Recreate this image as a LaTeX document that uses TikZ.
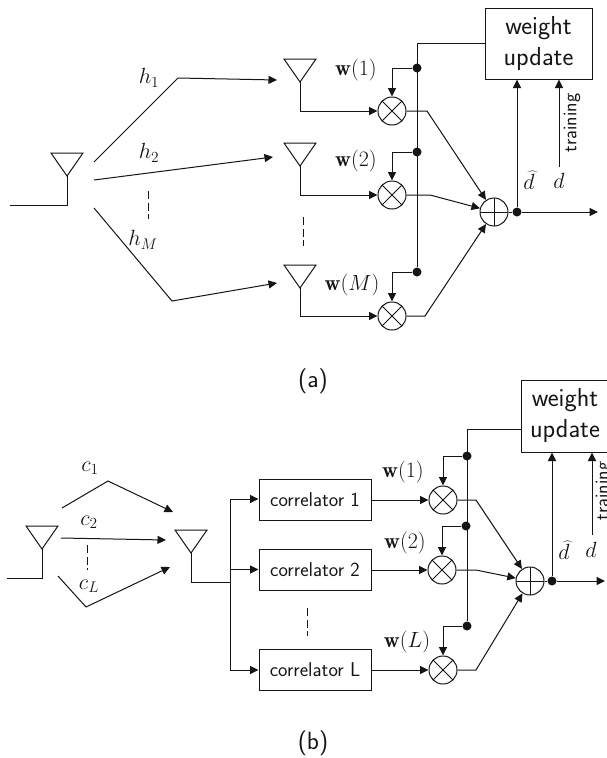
\RequirePackage{fix-cm}
\documentclass[tikz,border=0pt]{standalone}
\usepackage{fontspec}
\usetikzlibrary{arrows.meta}
\newfontfamily\labfont{Latin Modern Sans}
\newcommand{\antenna}[3]{% name, x, apex y
  \coordinate (#1) at (#2,#3);
  \draw[wire] (#1) -- ++(-16,-23) -- ++(32,0) -- cycle;}
\tikzset{
  x=1pt,y=-1pt,
  wire/.style={draw=ink,line width=1pt,line join=miter},
  arr/.style={wire,-{Triangle[length=8.5pt,width=8pt]}},
  mult/.style={circle,draw=ink,line width=1pt,fill=white,inner sep=0pt,minimum size=28pt,
    path picture={\draw[draw=ink,line width=1pt,shift={(path picture bounding box.center)}] (-10,-10)--(10,10) (-10,10)--(10,-10);}},
  summer/.style={circle,draw=ink,line width=1pt,fill=white,inner sep=0pt,minimum size=28pt,
    path picture={\draw[draw=ink,line width=1pt,shift={(path picture bounding box.center)}] (-14,0)--(14,0) (0,-14)--(0,14);}},
  dotn/.style={circle,fill=ink,inner sep=0pt,minimum size=9pt},
  bigbox/.style={draw=ink,line width=1pt,fill=white,align=center,inner sep=0pt,text=ink,
    font=\labfont\fontsize{26}{31}\selectfont},
  corr/.style={draw=ink,line width=1pt,fill=white,inner sep=0pt,minimum width=112pt,minimum height=41pt,text=ink,
    font=\labfont\fontsize{20}{22}\selectfont},
  smalltext/.style={text=ink,inner sep=0pt,font=\labfont\fontsize{19.5}{22}\selectfont},
  capt/.style={text=ink,inner sep=0pt,font=\labfont\fontsize{25}{28}\selectfont},
  mathl/.style={text=ink,inner sep=0pt,font=\fontsize{22}{25}\selectfont},
  dashl/.style={draw=ink,line width=1pt,dash pattern=on 8pt off 3.5pt},
}
\definecolor{ink}{HTML}{151515}
\begin{document}
\begin{tikzpicture}
\clip (0,0) rectangle (607,758);
\fill[white] (0,0) rectangle (607,758);

% ---------- (a) ----------
\antenna{txa}{67}{176}
\coordinate (txaL) at (10,205);
\coordinate (txaK) at (67,205);
\draw[wire] (txa) -- (txaK) -- (txaL);

\antenna{ra1}{300}{82}
\antenna{ra2}{300}{166}
\antenna{ra3}{300}{288}
\coordinate (ch1s) at (94,162); \coordinate (ch1k) at (178,78); \coordinate (ch1e) at (277,80);
\coordinate (ch2s) at (94,180); \coordinate (ch2e) at (273,157);
\coordinate (ch3s) at (94,208); \coordinate (ch3k) at (172,301); \coordinate (ch3e) at (277,283);
\draw[arr] (ch1s) -- (ch1k) -- (ch1e);
\draw[arr] (ch2s) -- (ch2e);
\draw[arr] (ch3s) -- (ch3k) -- (ch3e);
\coordinate (da1) at (148,191); \coordinate (da2) at (148,219);
\draw[dashl] (da1) -- (da2);
\coordinate (da3) at (303,217); \coordinate (da4) at (303,246);
\draw[dashl] (da3) -- (da4);
\node[mathl] (h1) at (149,78) {$h_1$};
\node[mathl] (h2) at (149,153) {$h_2$};
\node[mathl] (hM) at (143,240) {$h_M$};

\node[bigbox,minimum width=107pt,minimum height=71pt] (wa) at (538.5,43.5) {weight\\update};
\node[mult] (ma1) at (392,111) {};
\node[mult] (ma2) at (392,195) {};
\node[mult] (ma3) at (392,316) {};
\node[summer] (sa) at (494,212) {};
\node[dotn] (da) at (517,212) {};
\node[dotn] (ba1) at (417,68) {};
\node[dotn] (ba2) at (417,152) {};
\node[dotn] (ba3) at (417,272) {};
\coordinate (bat) at (417,43);
\draw[wire] (wa.west |- bat) -- (bat) -- (ba3);
\coordinate (ra1k) at (300,111); \coordinate (ra2k) at (300,195); \coordinate (ra3k) at (300,316);
\draw[arr] (ra1) -- (ra1k) -- (ma1);
\draw[arr] (ra2) -- (ra2k) -- (ma2);
\draw[arr] (ra3) -- (ra3k) -- (ma3);
\draw[arr] (ba1) -| (ma1);
\draw[arr] (ba2) -| (ma2);
\draw[arr] (ba3) -| (ma3);
\coordinate (oa1) at (427,111); \coordinate (oa2) at (430,195); \coordinate (oa3) at (425,316);
\draw[arr] (ma1) -- (oa1) -- (sa);
\draw[arr] (ma2) -- (oa2) -- (sa);
\draw[arr] (ma3) -- (oa3) -- (sa);
\draw[wire] (sa) -- (da);
\coordinate (outa) at (598,212);
\draw[arr] (da) -- (outa);
\draw[arr] (da) -- (da |- wa.south);
\coordinate (traina) at (559,167);
\draw[arr] (traina) -- (traina |- wa.south);
\node[smalltext,rotate=90] (tra) at (572,123) {training};
\node[mathl] (dha) at (529,180) {$\widehat{d}$};
\node[mathl] (dta) at (559,181) {$d$};
\node[mathl] (wa1) at (356,70) {$\mathbf{w}(1)$};
\node[mathl] (wa2) at (356,161) {$\mathbf{w}(2)$};
\node[mathl] (wa3) at (352,285) {$\mathbf{w}(M)$};
\node[capt] (capa) at (313,381) {(a)};

% ---------- (b) ----------
\antenna{txb}{42}{549}
\coordinate (txbK) at (42,578); \coordinate (txbL) at (7,578);
\draw[wire] (txb) -- (txbK) -- (txbL);
\antenna{rxb}{191}{553}
\coordinate (c1s) at (62,508); \coordinate (c1k) at (108,481); \coordinate (c1e) at (173,512);
\coordinate (c2s) at (61,538); \coordinate (c2e) at (166,540);
\coordinate (c3s) at (58,576); \coordinate (c3k) at (86,607); \coordinate (c3e) at (170,567);
\draw[arr] (c1s) -- (c1k) -- (c1e);
\draw[arr] (c2s) -- (c2e);
\draw[arr] (c3s) -- (c3k) -- (c3e);
\coordinate (db1) at (87,545); \coordinate (db2) at (87,570);
\draw[dashl] (db1) -- (db2);
\node[mathl] (c1) at (90,468) {$c_1$};
\node[mathl] (c2) at (89,522) {$c_2$};
\node[mathl] (cL) at (89,586) {$c_L$};

\node[corr] (k1) at (315,499.5) {correlator 1};
\node[corr] (k2) at (315,569.5) {correlator 2};
\node[corr] (k3) at (315,670) {correlator L};
\coordinate (rxk) at (191,582); \coordinate (bus) at (230,582);
\coordinate (bust) at (230,499); \coordinate (busb) at (230,670);
\draw[wire] (rxb) -- (rxk) -- (bus);
\draw[wire] (bust) -- (busb);
\draw[arr] (bust) -- (bust -| k1.west);
\draw[arr] (bust |- k2.west) -- (k2.west);
\draw[arr] (busb) -- (busb -| k3.west);
\coordinate (db3) at (307,608); \coordinate (db4) at (307,636);
\draw[dashl] (db3) -- (db4);

\node[bigbox,minimum width=88pt,minimum height=72pt] (wb) at (565,416) {weight\\update};
\node[mult] (mb1) at (443,500) {};
\node[mult] (mb2) at (442,570) {};
\node[mult] (mb3) at (443,670) {};
\node[summer] (sb) at (530,581) {};
\node[dotn] (db) at (552,581) {};
\node[dotn] (bb1) at (467,456) {};
\node[dotn] (bb2) at (466,526) {};
\node[dotn] (bb3) at (467,626) {};
\coordinate (bbt) at (467,429);
\draw[wire] (wb.west |- bbt) -- (bbt) -- (bb3);
\draw[arr] (k1.east |- mb1) -- (mb1);
\draw[arr] (k2.east |- mb2) -- (mb2);
\draw[arr] (k3.east |- mb3) -- (mb3);
\draw[arr] (bb1) -| (mb1);
\draw[arr] (bb2) -| (mb2);
\draw[arr] (bb3) -| (mb3);
\coordinate (ob1) at (476,500); \coordinate (ob2) at (476,570); \coordinate (ob3) at (476,670);
\draw[arr] (mb1) -- (ob1) -- (sb);
\draw[arr] (mb2) -- (ob2) -- (sb);
\draw[arr] (mb3) -- (ob3) -- (sb);
\draw[wire] (sb) -- (db);
\coordinate (outb) at (605,581);
\draw[arr] (db) -- (outb);
\draw[arr] (db) -- (db |- wb.south);
\coordinate (trainb) at (592,535);
\draw[arr] (trainb) -- (trainb |- wb.south);
\node[smalltext,rotate=90] (trb) at (604,491) {training};
\node[mathl] (dhb) at (564,550) {$\widehat{d}$};
\node[mathl] (dtb) at (591,550) {$d$};
\node[mathl] (wb1) at (403,472) {$\mathbf{w}(1)$};
\node[mathl] (wb2) at (405,543) {$\mathbf{w}(2)$};
\node[mathl] (wb3) at (407,642) {$\mathbf{w}(L)$};
\node[capt] (capb) at (313,743) {(b)};
\end{tikzpicture}
\end{document}
